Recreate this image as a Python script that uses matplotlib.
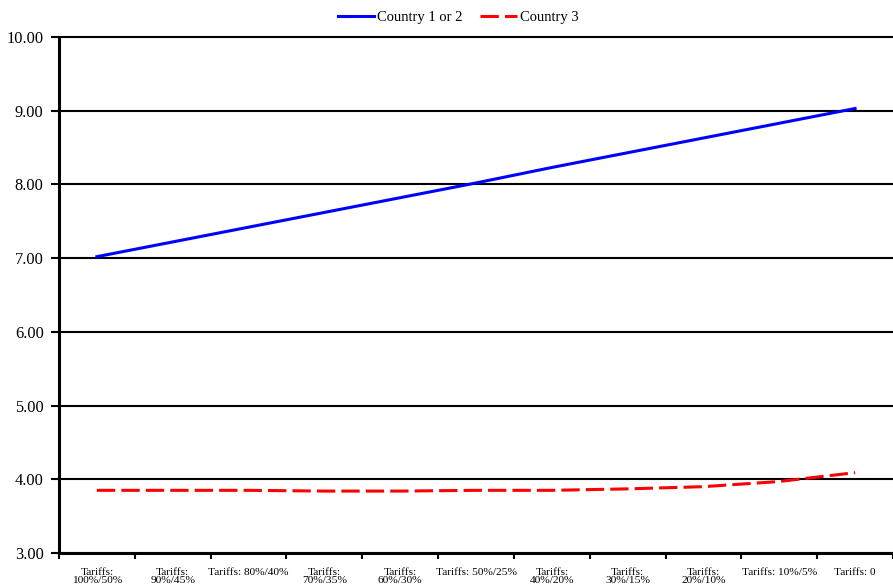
import numpy as np
import matplotlib
matplotlib.use("Agg")
import matplotlib.pyplot as plt

plt.rcParams['font.family'] = ['Liberation Serif', 'DejaVu Serif']

labels = ["Tariffs:\n100%/50%", "Tariffs:\n90%/45%", "Tariffs: 80%/40%",
          "Tariffs:\n70%/35%", "Tariffs:\n60%/30%", "Tariffs: 50%/25%",
          "Tariffs:\n40%/20%", "Tariffs:\n30%/15%", "Tariffs:\n20%/10%",
          "Tariffs: 10%/5%", "Tariffs: 0"]
country12 = [7.02, 7.22, 7.42, 7.62, 7.82, 8.02, 8.23, 8.43, 8.63, 8.83, 9.03]
country3 = [3.85, 3.85, 3.85, 3.84, 3.84, 3.85, 3.85, 3.87, 3.90, 3.97, 4.09]

fig = plt.figure(figsize=(8.93, 5.87), dpi=100)
ax = fig.add_axes([59/893, 1-553/587, 1-59/893, (553-37)/587])

x = np.arange(len(labels))
ax.plot(x, country12, color='#0000ff', lw=2.2, label='Country 1 or 2')
ax.plot(x, country3, color='#ff0000', lw=2.2, ls=(0, (6, 2)), label='Country 3')

ax.set_xlim(-0.5, len(labels) - 0.5)
ax.set_ylim(3, 10)
ax.set_yticks(np.arange(3, 10.01, 1))
ax.set_yticklabels(["%.2f" % v for v in np.arange(3, 10.01, 1)], fontsize=11.8)
ax.yaxis.grid(True, color='black', lw=1.5)
for gl in ax.get_ygridlines():
    gl.set_clip_on(False)
ax.set_axisbelow(True)

ax.set_xticks(x)
ax.set_xticklabels(labels, fontsize=8.2, linespacing=0.95, va='top')
ax.tick_params(axis='x', which='major', length=0, pad=10.5)
ax.set_xticks(np.arange(-0.5, len(labels), 1), minor=True)
ax.tick_params(axis='x', which='minor', length=4, width=1.5, direction='out')
ax.tick_params(axis='y', length=6, width=1.5, direction='out', pad=5)

for side in ['top', 'right']:
    ax.spines[side].set_visible(False)
ax.spines['left'].set_linewidth(2.2)
ax.spines['bottom'].set_linewidth(2.2)

fig.legend(loc='upper center', bbox_to_anchor=(0.513, 1.004), ncol=2, frameon=False,
           fontsize=10.5, handlelength=2.5, columnspacing=1.2, handletextpad=0.2)

fig.savefig('out.png', dpi=100)
